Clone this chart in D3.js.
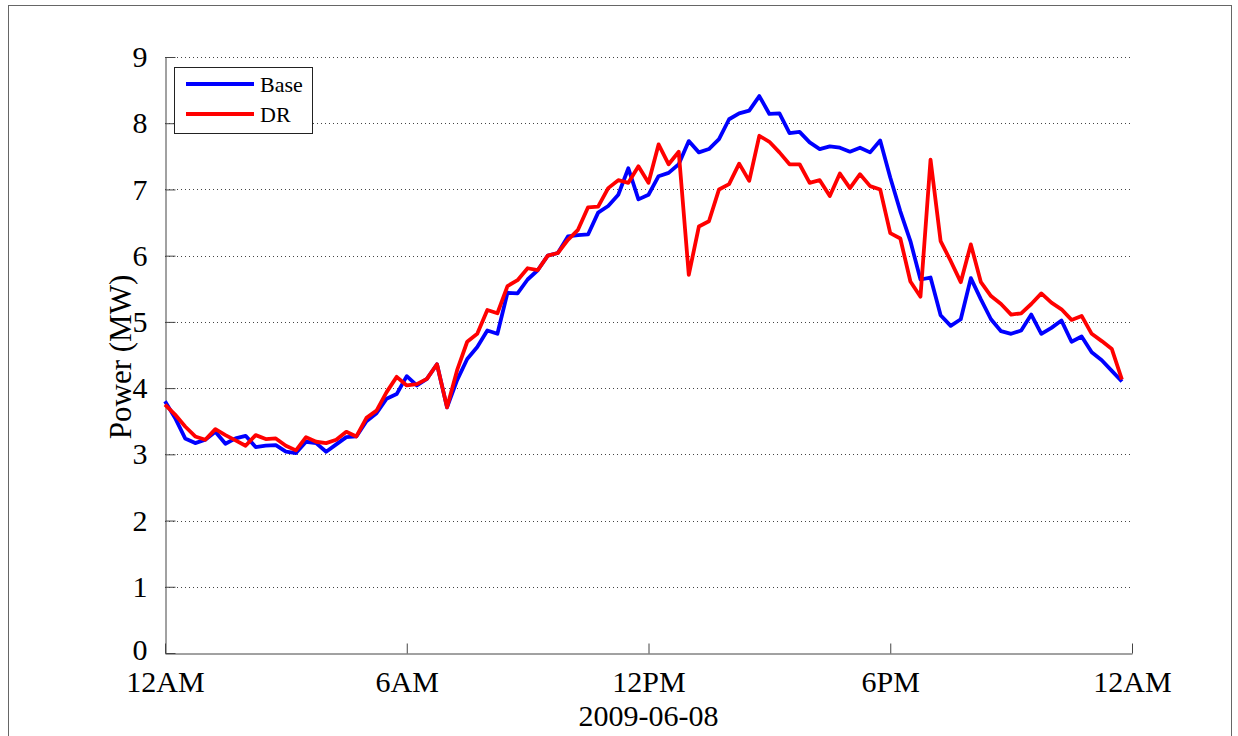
<!DOCTYPE html>
<html>
<head>
<meta charset="utf-8">
<script src="https://cdn.jsdelivr.net/npm/d3@7"></script>
<style>
  html, body { margin: 0; padding: 0; background: #fff; }
  svg { display: block; }
  text { font-family: "Liberation Serif", "Times New Roman", serif; fill: #000; }
</style>
</head>
<body>
<svg id="chart" width="1238" height="736"></svg>
<script>
// Feeder power for one day, sampled every 15 minutes (MW)
const baseLoad = [
  3.80, 3.55, 3.24, 3.17, 3.22, 3.34, 3.16, 3.24, 3.28, 3.11, 3.13, 3.14,
  3.04, 3.02, 3.19, 3.17, 3.04, 3.15, 3.26, 3.27, 3.50, 3.62, 3.84, 3.91,
  4.18, 4.04, 4.14, 4.36, 3.71, 4.12, 4.44, 4.62, 4.87, 4.82, 5.44, 5.43,
  5.64, 5.78, 6.00, 6.04, 6.29, 6.31, 6.32, 6.65, 6.75, 6.92, 7.32, 6.85,
  6.92, 7.20, 7.25, 7.38, 7.73, 7.56, 7.61, 7.76, 8.06, 8.15, 8.19, 8.41,
  8.14, 8.15, 7.85, 7.87, 7.71, 7.61, 7.65, 7.63, 7.57, 7.63, 7.56, 7.74,
  7.18, 6.67, 6.22, 5.64, 5.67, 5.10, 4.94, 5.04, 5.66, 5.34, 5.04, 4.86,
  4.82, 4.87, 5.11, 4.82, 4.91, 5.02, 4.70, 4.78, 4.54, 4.42, 4.26, 4.10
];
const drLoad = [
  3.75, 3.60, 3.42, 3.27, 3.22, 3.38, 3.29, 3.21, 3.13, 3.29, 3.23, 3.24,
  3.13, 3.06, 3.26, 3.19, 3.17, 3.22, 3.34, 3.27, 3.55, 3.66, 3.94, 4.17,
  4.04, 4.06, 4.14, 4.36, 3.71, 4.27, 4.70, 4.82, 5.18, 5.13, 5.54, 5.63,
  5.81, 5.78, 6.00, 6.04, 6.24, 6.39, 6.73, 6.74, 7.02, 7.14, 7.10, 7.35,
  7.10, 7.68, 7.38, 7.57, 5.71, 6.44, 6.52, 7.00, 7.08, 7.39, 7.13, 7.81,
  7.72, 7.56, 7.38, 7.38, 7.10, 7.14, 6.90, 7.24, 7.02, 7.23, 7.05, 7.00,
  6.34, 6.26, 5.61, 5.38, 7.45, 6.22, 5.92, 5.60, 6.17, 5.60, 5.39, 5.27,
  5.11, 5.13, 5.27, 5.43, 5.29, 5.19, 5.03, 5.09, 4.82, 4.71, 4.59, 4.13
];
const stepMinutes = 15;
const seriesNames = ["Base", "DR"];
const seriesColors = ["#0000ff", "#ff0000"];
const xTickHours = [0, 6, 12, 18, 24];
const xTickLabels = ["12AM", "6AM", "12PM", "6PM", "12AM"];
const yTicks = [0, 1, 2, 3, 4, 5, 6, 7, 8, 9];
const dateLabel = "2009-06-08";
const yLabel = "Power (MW)";

const svg = d3.select("#chart");
const plot = { left: 165, right: 1132, top: 57, bottom: 653 };

// outer figure frame
svg.append("rect")
  .attr("x", 8.5).attr("y", 5.5)
  .attr("width", 1223).attr("height", 745)
  .attr("fill", "none").attr("stroke", "#666").attr("stroke-width", 1);

const x = d3.scaleLinear().domain([0, 24]).range([plot.left, plot.right]);
const y = d3.scaleLinear().domain([0, 9]).range([plot.bottom, plot.top]);

// dotted horizontal grid
svg.append("g")
  .selectAll("line")
  .data(yTicks.filter(v => v > 0))
  .join("line")
  .attr("x1", plot.left).attr("x2", plot.right)
  .attr("y1", d => Math.round(y(d)) + 0.5).attr("y2", d => Math.round(y(d)) + 0.5)
  .attr("stroke", "#444").attr("stroke-width", 1)
  .attr("stroke-dasharray", "1,3");

// y axis: ticks point inward
const yAxis = d3.axisLeft(y).tickValues(yTicks).tickSizeInner(-10).tickSizeOuter(0).tickPadding(18);
const gy = svg.append("g").attr("transform", `translate(${plot.left + 0.5},0)`).call(yAxis);
gy.select(".domain").attr("stroke", "#444");
gy.selectAll(".tick line").attr("stroke", "#444");
gy.selectAll(".tick text")
  .style("font-family", '"Liberation Serif", serif')
  .style("font-size", "30px").attr("fill", "#000");
// the zero label sits just above the time labels
gy.selectAll(".tick text").filter(d => d === 0).attr("dy", "0.2em");

// x axis
const xAxis = d3.axisBottom(x).tickValues(xTickHours)
  .tickFormat((d, i) => xTickLabels[i])
  .tickSizeInner(-10).tickSizeOuter(0).tickPadding(17);
const gx = svg.append("g").attr("transform", `translate(0,${plot.bottom + 0.5})`).call(xAxis);
gx.select(".domain").attr("stroke", "#444");
gx.selectAll(".tick line").attr("stroke", "#444");
gx.selectAll(".tick text")
  .style("font-family", '"Liberation Serif", serif')
  .style("font-size", "30px").attr("fill", "#000");

svg.append("text")
  .attr("x", (plot.left + plot.right) / 2).attr("y", 726)
  .attr("text-anchor", "middle")
  .style("font-size", "30px")
  .text(dateLabel);

svg.append("text")
  .attr("transform", `translate(131,${(plot.top + plot.bottom) / 2 + 2}) rotate(-90)`)
  .attr("text-anchor", "middle")
  .style("font-size", "31px")
  .text(yLabel);

// series lines
const line = d3.line()
  .x((d, i) => x(i * stepMinutes / 60))
  .y(d => y(d));

[baseLoad, drLoad].forEach((vals, k) => {
  svg.append("path")
    .datum(vals)
    .attr("d", line)
    .attr("fill", "none")
    .attr("stroke", seriesColors[k])
    .attr("stroke-width", 3.8)
    .attr("stroke-linejoin", "round");
});

// legend
const lg = svg.append("g");
lg.append("rect")
  .attr("x", 174.5).attr("y", 67.5).attr("width", 138).attr("height", 66)
  .attr("fill", "#fff").attr("stroke", "#222").attr("stroke-width", 1);
seriesNames.forEach((name, k) => {
  const ly = 84 + k * 30;
  lg.append("line")
    .attr("x1", 186).attr("x2", 254).attr("y1", ly).attr("y2", ly)
    .attr("stroke", seriesColors[k]).attr("stroke-width", 3.8);
  lg.append("text")
    .attr("x", 260).attr("y", ly + 8)
    .style("font-size", "22px")
    .text(name);
});
</script>
</body>
</html>
